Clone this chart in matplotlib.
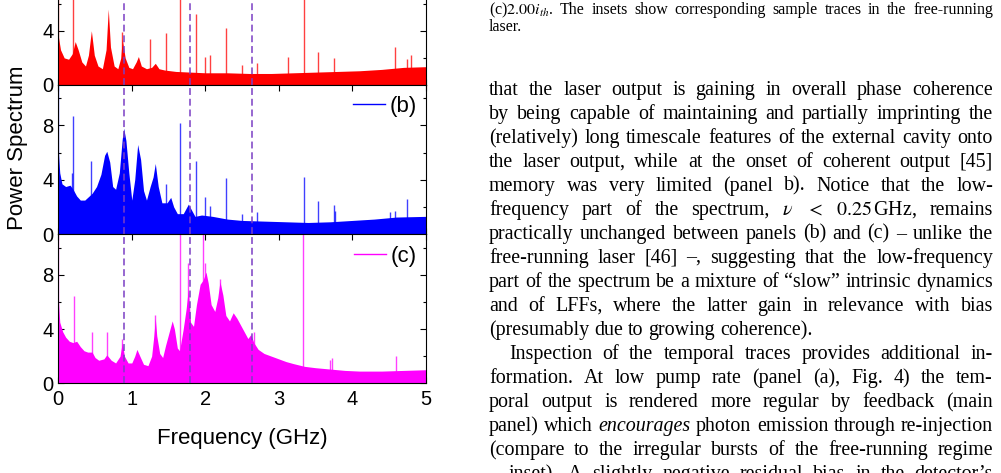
import matplotlib
matplotlib.use("Agg")
import matplotlib.pyplot as plt
from matplotlib.lines import Line2D
from matplotlib.ticker import MultipleLocator
from matplotlib.transforms import IdentityTransform

W, H = 1001, 473

# power spectra: envelope nodes (GHz, power)
freq_a = [0.00, 0.03, 0.08, 0.14, 0.19, 0.23, 0.27, 0.32, 0.37, 0.41, 0.45, 0.49, 0.54, 0.60, 0.65,
          0.68, 0.71, 0.76, 0.81, 0.85, 0.87, 0.91, 0.96, 1.01, 1.06, 1.09, 1.13, 1.20, 1.27, 1.32,
          1.37, 1.45, 1.60, 1.80, 2.00, 2.30, 2.60, 2.90, 3.20, 3.50, 3.80, 4.10, 4.40, 4.70, 5.00]
power_a = [3.6, 2.6, 2.0, 1.9, 2.3, 3.2, 2.6, 1.7, 1.4, 2.2, 4.0, 2.2, 1.4, 1.2, 2.6,
           5.6, 2.8, 1.4, 1.2, 2.0, 3.4, 2.0, 1.3, 1.2, 1.7, 2.1, 1.4, 1.2, 1.3, 1.6,
           1.2, 1.1, 1.0, 0.95, 0.9, 0.9, 0.85, 0.85, 0.9, 0.95, 1.0, 1.05, 1.15, 1.3, 1.35]

freq_b = [0.00, 0.02, 0.05, 0.10, 0.16, 0.20, 0.25, 0.30, 0.36, 0.42, 0.46, 0.52, 0.58, 0.63, 0.66,
          0.70, 0.74, 0.78, 0.83, 0.87, 0.89, 0.92, 0.96, 1.00, 1.04, 1.08, 1.12, 1.16, 1.20, 1.25,
          1.29, 1.32, 1.36, 1.41, 1.48, 1.53, 1.57, 1.62, 1.70, 1.77, 1.80, 1.86, 1.95, 2.10, 2.30,
          2.50, 2.80, 3.10, 3.40, 3.70, 4.00, 4.30, 4.60, 5.00]
power_b = [6.1, 4.5, 3.7, 3.5, 3.6, 3.3, 2.8, 2.5, 2.5, 2.8, 3.0, 3.5, 4.4, 5.8, 6.1,
           5.3, 3.5, 3.3, 4.5, 7.0, 7.8, 6.9, 4.5, 2.5, 4.0, 6.6, 5.5, 3.2, 2.5, 3.5,
           4.2, 5.2, 3.5, 2.3, 2.3, 2.7, 2.0, 1.5, 1.5, 2.2, 1.9, 1.3, 1.4, 1.3, 1.1,
           1.0, 0.95, 0.9, 0.85, 0.9, 1.0, 1.1, 1.25, 1.3]

freq_c = [0.00, 0.02, 0.06, 0.10, 0.15, 0.20, 0.25, 0.30, 0.35, 0.40, 0.46, 0.50, 0.55, 0.62, 0.66,
          0.72, 0.78, 0.84, 0.87, 0.90, 0.95, 1.00, 1.04, 1.07, 1.11, 1.16, 1.22, 1.27, 1.30, 1.32,
          1.34, 1.38, 1.42, 1.46, 1.51, 1.55, 1.58, 1.62, 1.65, 1.70, 1.74, 1.77, 1.80, 1.84, 1.88,
          1.93, 1.97, 2.01, 2.04, 2.08, 2.13, 2.17, 2.20, 2.24, 2.28, 2.33, 2.38, 2.43, 2.48, 2.53,
          2.58, 2.62, 2.66, 2.72, 2.80, 2.90, 3.00, 3.10, 3.20, 3.35, 3.50, 3.70, 3.90, 4.10, 4.40,
          4.70, 5.00]
power_c = [6.2, 4.5, 3.8, 3.4, 3.1, 3.0, 3.1, 2.7, 2.4, 2.3, 2.3, 1.9, 1.7, 1.8, 2.1,
           1.7, 1.5, 2.0, 3.0, 2.0, 1.5, 1.5, 2.0, 2.5, 2.0, 1.4, 1.3, 2.0, 3.5, 4.8,
           3.5, 2.2, 1.9, 2.8, 3.8, 4.6, 4.0, 2.6, 2.4, 4.0, 5.5, 7.0, 4.5, 4.2, 5.8,
           7.3, 7.6, 8.2, 7.4, 5.8, 5.3, 6.3, 7.5, 6.5, 5.0, 4.6, 5.2, 4.8, 4.3, 3.8,
           3.3, 3.6, 3.0, 2.5, 2.2, 2.0, 1.8, 1.6, 1.45, 1.25, 1.15, 1.05, 0.95, 0.9, 0.9,
           0.95, 1.0]

# narrow spectral lines (GHz, height)
spike_f_a = [0.0, 0.204, 0.87, 1.25, 1.46, 1.66, 1.87, 1.99, 2.07, 2.28, 2.50, 2.71, 3.13, 3.34, 3.54, 3.75, 4.58, 4.74, 4.80]
spike_p_a = [11, 11, 3.9, 3.4, 3.8, 11, 5.2, 2.1, 2.2, 4.2, 1.5, 1.6, 2.1, 11, 2.4, 2.0, 2.8, 1.9, 2.2]
spike_f_b = [0.0, 0.19, 0.204, 0.44, 1.46, 1.66, 1.87, 1.99, 2.07, 2.28, 2.50, 2.71, 3.34, 3.54, 3.75, 3.77, 4.52, 4.58, 4.75]
spike_p_b = [11, 4.5, 8.7, 5.4, 3.7, 8.2, 5.4, 2.7, 2.1, 4.1, 1.5, 1.65, 4.2, 2.4, 2.15, 1.7, 1.6, 1.7, 2.55]
spike_f_c = [0.0, 0.21, 0.46, 0.66, 0.87, 1.32, 1.66, 1.76, 1.97, 2.00, 2.20, 2.67, 3.33, 3.70, 3.72, 4.60]
spike_p_c = [11, 6.4, 3.8, 3.8, 3.3, 5.0, 11, 8.9, 11, 8.9, 7.7, 3.8, 11, 1.7, 1.85, 2.0]

cavity_lines = [0.90, 1.79, 2.63]
panel_labels = [None, "(b)", "(c)"]   # the (a) label sits above the cropped page
colors = ["#ff0000", "#0000ff", "#ff00ff"]

caption_lines = [
    "(c)$2.00i_{th}$. The insets show corresponding sample traces in the free-running",
    "laser.",
]
body_lines = [
    "that the laser output is gaining in overall phase coherence",
    "by being capable of maintaining and partially imprinting the",
    "(relatively) long timescale features of the external cavity onto",
    "the laser output, while at the onset of coherent output [45]",
    "memory was very limited (panel b). Notice that the low-",
    r"frequency part of the spectrum, $\nu$ $<$ $0.25\,$GHz, remains",
    "practically unchanged between panels (b) and (c) \u2013 unlike the",
    "free-running laser [46] \u2013, suggesting that the low-frequency",
    "part of the spectrum be a mixture of \u201cslow\u201d intrinsic dynamics",
    "and of LFFs, where the latter gain in relevance with bias",
    "(presumably due to growing coherence).",
    "Inspection of the temporal traces provides additional in-",
    "formation. At low pump rate (panel (a), Fig. 4) the tem-",
    "poral output is rendered more regular by feedback (main",
    "panel) which encourages photon emission through re-injection",
    "(compare to the irregular bursts of the free-running regime",
    "\u2013 inset). A slightly negative residual bias in the detector\u2019s",
]
italic_words = {"encourages"}

plt.rcParams["mathtext.fontset"] = "stix"
sans = ["Liberation Sans", "DejaVu Sans"]
serif = ["Liberation Serif", "DejaVu Serif"]

fig = plt.figure(figsize=(W / 100, H / 100), dpi=100)
fig.patch.set_facecolor("white")

left, width = 58.3 / W, 367.4 / W
panel_h = 149.2 / H
bottoms = [(H - 85) / H, (H - 234) / H, (H - 383.3) / H]
freqs = [freq_a, freq_b, freq_c]
powers = [power_a, power_b, power_c]
spike_fs = [spike_f_a, spike_f_b, spike_f_c]
spike_ps = [spike_p_a, spike_p_b, spike_p_c]

axes = []
for i in range(3):
    ax = fig.add_axes([left, bottoms[i], width, panel_h])
    ax.fill_between(freqs[i], 0, powers[i], color=colors[i], lw=0, zorder=2)
    ax.vlines(spike_fs[i], 0, spike_ps[i], color=colors[i], lw=1.0, alpha=0.75, zorder=2)
    for x in cavity_lines:
        ax.axvline(x, color="#7b3fc4", lw=1.1, ls=(0, (4.5, 2.5)), zorder=3)
    ax.set_xlim(0, 5)
    ax.set_ylim(0, 11)
    ax.yaxis.set_major_locator(MultipleLocator(4))
    ax.yaxis.set_minor_locator(MultipleLocator(2))
    ax.xaxis.set_major_locator(MultipleLocator(1))
    ax.tick_params(which="both", direction="in", right=True, top=True, labelsize=14.5, pad=3.5)
    ax.tick_params(which="major", length=4, width=0.8)
    ax.tick_params(which="minor", length=2.5, width=0.8)
    for lab in ax.get_xticklabels() + ax.get_yticklabels():
        lab.set_family(sans)
    if i < 2:
        ax.tick_params(labelbottom=False)
    if panel_labels[i]:
        ax.legend(handles=[Line2D([], [], color=colors[i], lw=1.0)], labels=[panel_labels[i]],
                  loc="center right", bbox_to_anchor=(0.9755, 0.853), frameon=False,
                  handlelength=1.45, handletextpad=0.2, borderpad=0, borderaxespad=0,
                  prop={"family": sans, "size": 16})
    axes.append(ax)

# top panel is cut by the page edge: only its lower labels show
axes[0].set_yticks([0, 4])
axes[0].yaxis.set_minor_locator(MultipleLocator(2))
axes[0].tick_params(axis="y", which="major", labelsize=14.5)
axes[2].tick_params(axis="x", pad=5)

fig.text(242 / W, (H - 443.5) / H, "Frequency (GHz)", ha="center", va="baseline",
         fontsize=16, family=sans)
fig.text(22.7 / W, (H - 148) / H, "Power Spectrum", rotation=90, rotation_mode="anchor",
         ha="center", va="baseline", fontsize=16, family=sans)

# page text next to the figure, justified line by line
renderer = fig.canvas.get_renderer()
ident = IdentityTransform()
x_left, x_right = 489.0, 993.0
body_size = 14.4
cap_size = 11.5


def word_artist(w, size):
    st = "italic" if w in italic_words else "normal"
    return fig.text(0, 0, w, fontsize=size, family=serif, style=st,
                    transform=ident, va="baseline", ha="left")


def put_line(text, baseline, size, justify=True, indent=0.0):
    words = text.split(" ")
    arts = [word_artist(w, size) for w in words]
    widths = [a.get_window_extent(renderer).width for a in arts]
    x0 = x_left + indent
    if justify and len(words) > 1:
        gap = (x_right - x0 - sum(widths)) / (len(words) - 1)
    else:
        gap = 0.25 * size * fig.dpi / 72
    x = x0
    for a, wd in zip(arts, widths):
        a.set_position((x, H - baseline))
        x += wd + gap


cap_base = [14.2, 30.8]
for k, line in enumerate(caption_lines):
    put_line(line, cap_base[k], cap_size, justify=(k == 0))

for k, line in enumerate(body_lines):
    put_line(line, 94.5 + 24.05 * k, body_size,
             justify=(k != 10), indent=(20.0 if k == 11 else 0.0))

fig.savefig("out.png", dpi=100, facecolor="white")
